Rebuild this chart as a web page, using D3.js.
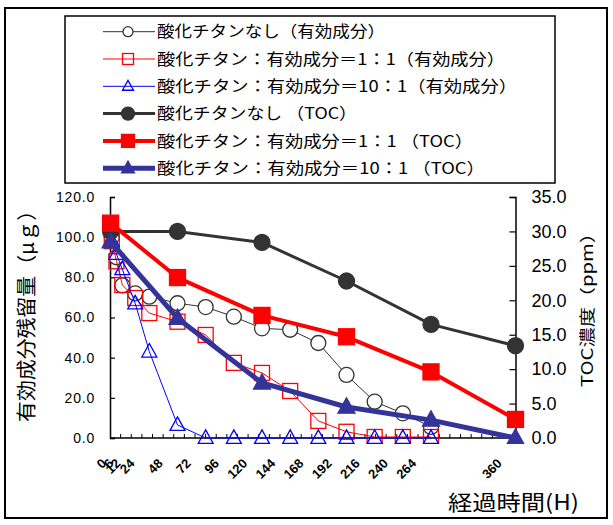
<!DOCTYPE html>
<html><head><meta charset="utf-8">
<script src="https://cdn.jsdelivr.net/npm/d3@7"></script>
<style>
body{margin:0;background:#fff;}
svg{display:block;}
</style></head>
<body>
<svg id="chart" width="613" height="525"></svg>
<script>
const effTimes = [16, 20, 25, 36, 48, 72, 96, 120, 144, 168, 192, 216, 240, 264, 288];
const tocTimes = [15, 72, 144, 216, 288, 360];
const noTiO2Eff  = [100, 90, 76, 72, 70.4, 67.1, 65.2, 60.4, 54.6, 53.9, 47.3, 31.4, 18.1, 12.3, 5.5];
const ratio1Eff  = [98, 88, 76.2, 69.7, 62.2, 57.9, 51.3, 37.4, 32.4, 23.4, 8.5, 3.1, 0.5, 0.5, 0.5];
const ratio10Eff = [98, 91.6, 84, 67, 43, 6.5, 0, 0, 0, 0, 0, 0, 0, 0, 0];
const noTiO2Toc  = [30.0, 30.0, 28.4, 22.8, 16.5, 13.4];
const ratio1Toc  = [31.2, 23.3, 17.8, 14.7, 9.6, 2.7];
const ratio10Toc = [28.5, 17.4, 8.0, 4.5, 2.6, 0];
const xTickLabels = [0, 6, 12, 24, 48, 72, 96, 120, 144, 168, 192, 216, 240, 264, 360];
const leftTicks = [0, 20, 40, 60, 80, 100, 120];
const rightTicks = [0, 5, 10, 15, 20, 25, 30, 35];
const legendLabels = [
  "酸化チタンなし（有効成分）",
  "酸化チタン：有効成分＝1：1（有効成分）",
  "酸化チタン：有効成分＝10：1（有効成分）",
  "酸化チタンなし （TOC）",
  "酸化チタン：有効成分＝1：1 （TOC）",
  "酸化チタン：有効成分＝10：1 （TOC）"
];
const legendWidths = [228, 348, 360, 200, 316, 328];

const svg = d3.select("#chart");
const JP = "'Noto Sans CJK JP','Noto Sans',sans-serif";
const NUM = "'Liberation Sans',Arial,sans-serif";

// outer frame
svg.append("rect").attr("x",5).attr("y",8).attr("width",602).attr("height",510)
  .attr("fill","none").attr("stroke","#000").attr("stroke-width",2);

// scales
const x = d3.scaleLinear().domain([0,360]).range([93,515.5]);
const xCross = 14.5;
const yL = d3.scaleLinear().domain([0,120]).range([438,197]);
const yR = d3.scaleLinear().domain([0,35]).range([438,197]);
const x0 = x(xCross), x1 = x(360);

// axes
const gL = svg.append("g").attr("transform",`translate(${x0},0)`)
  .call(d3.axisLeft(yL).tickValues(leftTicks).tickSize(-5).tickPadding(15).tickFormat(d3.format(".1f")));
gL.selectAll("text").attr("font-family",NUM).attr("font-size",14).attr("letter-spacing",0.8).attr("fill","#000");
const gR = svg.append("g").attr("transform",`translate(${x1},0)`)
  .call(d3.axisRight(yR).tickValues(rightTicks).tickSize(-6).tickPadding(16).tickFormat(d3.format(".1f")));
gR.selectAll("text").attr("font-family",NUM).attr("font-size",18).attr("fill","#000");
const minor = d3.range(xCross, 360, 9.05);
const gX = svg.append("g").attr("transform",`translate(0,${yL(0)})`);
gX.append("line").attr("x1",x0).attr("x2",x1).attr("stroke","#000").attr("stroke-width",1.5);
gX.selectAll("line.t").data(minor.slice(1)).join("line").attr("class","t")
  .attr("x1",d=>x(d)).attr("x2",d=>x(d)).attr("y1",0).attr("y2",-4).attr("stroke","#000");
[gL,gR].forEach(g=>{g.select(".domain").attr("stroke","#000").attr("stroke-width",1.5);
  g.selectAll(".tick line").attr("stroke","#000").attr("stroke-width",1.2);});

// x tick labels
svg.append("g").selectAll("text").data(xTickLabels).join("text")
  .attr("transform",d=>`translate(${Math.min(x(d)+11, x1-16)},461) rotate(-45)`)
  .attr("text-anchor","end").attr("dy","0.35em")
  .attr("font-family",NUM).attr("font-size",13).attr("font-weight","bold").text(d=>d);

// axis titles
svg.append("text").attr("transform","translate(27,311) rotate(-90)").attr("text-anchor","middle")
  .attr("dy","0.35em").attr("font-family",JP).attr("font-size",20)
  .attr("textLength",222).attr("lengthAdjust","spacingAndGlyphs").text("有効成分残留量（μｇ）");
svg.append("text").attr("transform","translate(587,305) rotate(-90)").attr("text-anchor","middle")
  .attr("dy","0.35em").attr("font-family",JP).attr("font-size",16)
  .attr("textLength",164).attr("lengthAdjust","spacingAndGlyphs").text("TOC濃度（ppm）");
svg.append("text").attr("x",448).attr("y",503).attr("text-anchor","start").attr("dy","0.35em")
  .attr("font-family",JP).attr("font-size",21)
  .attr("textLength",131).attr("lengthAdjust","spacingAndGlyphs").text("経過時間(H)");

// clip markers at the bottom of the plot area
svg.append("clipPath").attr("id","pc").append("rect").attr("x",0).attr("y",0).attr("width",613).attr("height",444);

const series = [
  {t:effTimes, v:noTiO2Eff, y:yL, color:"#333", lw:1, shape:"circle", fill:"#fff", size:15},
  {t:effTimes, v:ratio1Eff, y:yL, color:"#ff0000", lw:1, shape:"square", fill:"none", size:15},
  {t:effTimes, v:ratio10Eff, y:yL, color:"#0000ff", lw:1, shape:"triangle", fill:"none", size:15},
  {t:tocTimes, v:noTiO2Toc, y:yR, color:"#333", lw:3, shape:"circle", fill:"#333", size:16},
  {t:tocTimes, v:ratio1Toc, y:yR, color:"#ff0000", lw:4, shape:"square", fill:"#ff0000", size:16},
  {t:tocTimes, v:ratio10Toc, y:yR, color:"#333399", lw:5, shape:"triangle", fill:"#333399", size:17}
];
function marker(g, shape, size, color, fill, sw){
  if(shape==="circle") return g.append("circle").attr("r",size/2).attr("fill",fill).attr("stroke",color).attr("stroke-width",sw);
  if(shape==="square") return g.append("rect").attr("x",-size/2).attr("y",-size/2).attr("width",size).attr("height",size).attr("fill",fill).attr("stroke",color).attr("stroke-width",sw);
  const h=size*0.9; return g.append("path").attr("d",`M0,${-h*0.6}L${size/2},${h*0.4}L${-size/2},${h*0.4}Z`).attr("fill",fill).attr("stroke",color).attr("stroke-width",sw);
}
const plot = svg.append("g").attr("clip-path","url(#pc)");
series.forEach(s=>{
  const pts = s.t.map((t,i)=>[x(t), s.y(s.v[i])]);
  plot.append("path").attr("d",d3.line()(pts)).attr("fill","none").attr("stroke",s.color).attr("stroke-width",s.lw).attr("stroke-linejoin","round");
  pts.forEach(p=>{ const g=plot.append("g").attr("transform",`translate(${p[0]},${p[1]})`);
    marker(g,s.shape,s.size,s.color,s.fill,1.3);});
});

// legend
svg.append("rect").attr("x",65).attr("y",16).attr("width",490).attr("height",167)
  .attr("fill","#fff").attr("stroke","#000").attr("stroke-width",1.5);
const lsize=[10,11,11,13,13,13];
series.forEach((s,i)=>{
  const yy = 31.7 + 27.3*i;
  svg.append("line").attr("x1",103).attr("x2",155).attr("y1",yy).attr("y2",yy).attr("stroke",s.color).attr("stroke-width",s.lw);
  const g=svg.append("g").attr("transform",`translate(128,${yy})`);
  marker(g,s.shape,lsize[i],s.color,s.fill,1.3);
  svg.append("text").attr("x",157).attr("y",yy).attr("dy","0.36em").attr("font-family",JP).attr("font-size",16)
    .attr("textLength",legendWidths[i]).attr("lengthAdjust","spacingAndGlyphs").text(legendLabels[i]);
});
</script>
</body></html>
